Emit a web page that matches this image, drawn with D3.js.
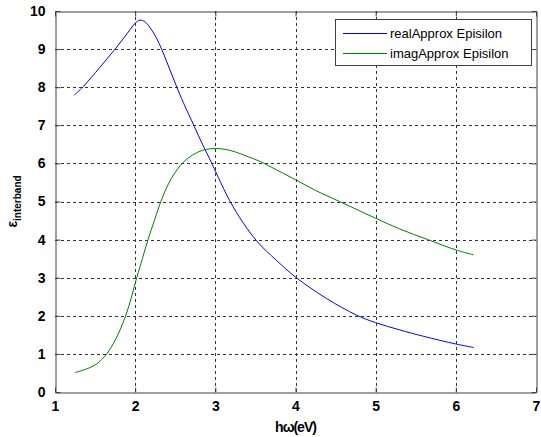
<!DOCTYPE html>
<html>
<head>
<meta charset="utf-8">
<script src="https://cdn.jsdelivr.net/npm/d3@7"></script>
<style>
  html, body { margin: 0; padding: 0; background: #fff; }
  svg { display: block; }
  .tick text { font-family: "Liberation Sans", Arial, sans-serif; font-weight: bold; font-size: 14px; fill: #000; }
</style>
</head>
<body>
<svg id="chart" width="541" height="437"></svg>
<script>
// Photon energy (eV) and interband permittivity, real part
const realX = [1.24, 1.35, 1.45, 1.56, 1.65, 1.75, 1.85, 1.94, 2.0, 2.06, 2.12, 2.18, 2.25, 2.33, 2.42, 2.52, 2.6, 2.74, 2.84, 2.95, 3.0, 3.18, 3.35, 3.53, 3.76, 4.01, 4.39, 4.76, 5.0, 5.3, 5.6, 6.0, 6.22];
const realY = [7.79, 8.01, 8.25, 8.52, 8.75, 9.00, 9.27, 9.52, 9.68, 9.76, 9.72, 9.58, 9.35, 9.00, 8.53, 8.00, 7.60, 6.96, 6.50, 6.03, 5.80, 5.02, 4.43, 3.93, 3.46, 3.00, 2.45, 2.02, 1.82, 1.63, 1.46, 1.26, 1.17];

// Imaginary part
const imagX = [1.25, 1.4, 1.52, 1.645, 1.76, 1.89, 2.02, 2.09, 2.16, 2.24, 2.32, 2.45, 2.6, 2.75, 2.87, 3.0, 3.12, 3.25, 3.39, 3.56, 3.7, 4.01, 4.25, 4.55, 5.0, 5.3, 5.65, 6.0, 6.22];
const imagY = [0.51, 0.61, 0.74, 1.00, 1.40, 2.05, 3.00, 3.50, 4.00, 4.50, 5.00, 5.60, 6.03, 6.26, 6.36, 6.39, 6.37, 6.30, 6.19, 6.05, 5.90, 5.56, 5.29, 5.00, 4.56, 4.28, 4.00, 3.73, 3.60];

const xTicks = [1, 2, 3, 4, 5, 6, 7];
const yTicks = [0, 1, 2, 3, 4, 5, 6, 7, 8, 9, 10];
const seriesNames = ["realApprox Episilon", "imagApprox Episilon"];
const seriesColors = ["#0000ff", "#008000"];

const svg = d3.select("#chart");
const plotL = 55, plotR = 536, plotT = 11, plotB = 392;

const x = d3.scaleLinear().domain([1, 7]).range([plotL, plotR]);
const y = d3.scaleLinear().domain([0, 10]).range([plotB, plotT]);

// dashed grid
const grid = svg.append("g").attr("stroke", "#333").attr("stroke-dasharray", "3,3").attr("stroke-width", 1);
grid.selectAll(".gx").data(xTicks.slice(1, -1)).join("line")
  .attr("x1", d => Math.round(x(d)) + 0.5).attr("x2", d => Math.round(x(d)) + 0.5)
  .attr("y1", plotT).attr("y2", plotB);
grid.selectAll(".gy").data(yTicks.slice(1, -1)).join("line")
  .attr("y1", d => Math.round(y(d)) + 0.5).attr("y2", d => Math.round(y(d)) + 0.5)
  .attr("x1", plotL).attr("x2", plotR);

// axes with inward ticks on all four sides
const tickLen = 5;
const axB = svg.append("g").attr("transform", `translate(0,${plotB + 0.5})`)
  .call(d3.axisBottom(x).tickValues(xTicks).tickFormat(d3.format("d")).tickSizeInner(-tickLen).tickSizeOuter(0).tickPadding(9));
const axT = svg.append("g").attr("transform", `translate(0,${plotT + 0.5})`)
  .call(d3.axisTop(x).tickValues(xTicks).tickFormat("").tickSizeInner(-tickLen).tickSizeOuter(0));
const axL = svg.append("g").attr("transform", `translate(${plotL + 0.5},0)`)
  .call(d3.axisLeft(y).tickValues(yTicks).tickFormat(d3.format("d")).tickSizeInner(-tickLen).tickSizeOuter(0).tickPadding(10));
const axR = svg.append("g").attr("transform", `translate(${plotR + 0.5},0)`)
  .call(d3.axisRight(y).tickValues(yTicks).tickFormat("").tickSizeInner(-tickLen).tickSizeOuter(0));
[axB, axT, axL, axR].forEach(a => {
  a.selectAll(".domain").attr("stroke", "#404040");
  a.selectAll(".tick line").attr("stroke", "#404040");
});

// curves
const line = d3.line().x(d => x(d[0])).y(d => y(d[1])).curve(d3.curveCatmullRom.alpha(0.5));
const realPts = realX.map((v, i) => [v, realY[i]]);
const imagPts = imagX.map((v, i) => [v, imagY[i]]);
[realPts, imagPts].forEach((pts, i) => {
  svg.append("path").datum(pts).attr("d", line)
    .attr("fill", "none").style("stroke", seriesColors[i]).attr("stroke-width", 1);
});

// legend
const lg = svg.append("g").attr("transform", "translate(335,19)");
lg.append("rect").attr("x", 0.5).attr("y", 0.5).attr("width", 196).attr("height", 46)
  .attr("fill", "#fff").attr("stroke", "#404040");
seriesNames.forEach((name, i) => {
  const ry = 14.5 + i * 20;
  lg.append("line").attr("x1", 8).attr("x2", 52).attr("y1", ry).attr("y2", ry)
    .style("stroke", seriesColors[i]).style("stroke-width", 1);
  lg.append("text").attr("x", 55).attr("y", ry + 4.5)
    .attr("font-family", "Liberation Sans, Arial, sans-serif").attr("font-size", 13)
    .text(name);
});

// axis titles
svg.append("text").attr("x", (plotL + plotR) / 2).attr("y", 432)
  .attr("text-anchor", "middle")
  .attr("font-family", "Liberation Sans, Arial, sans-serif").attr("font-weight", "bold")
  .attr("font-size", 14).attr("letter-spacing", -1)
  .text("hω(eV)");

const yt = svg.append("text")
  .attr("transform", `translate(17,${(plotT + plotB) / 2}) rotate(-90)`)
  .attr("text-anchor", "middle")
  .attr("font-family", "Liberation Sans, Arial, sans-serif").attr("font-weight", "bold");
yt.append("tspan").attr("font-size", 14).text("ε");
yt.append("tspan").attr("font-size", 10).attr("dy", 4).text("interband");
</script>
</body>
</html>
